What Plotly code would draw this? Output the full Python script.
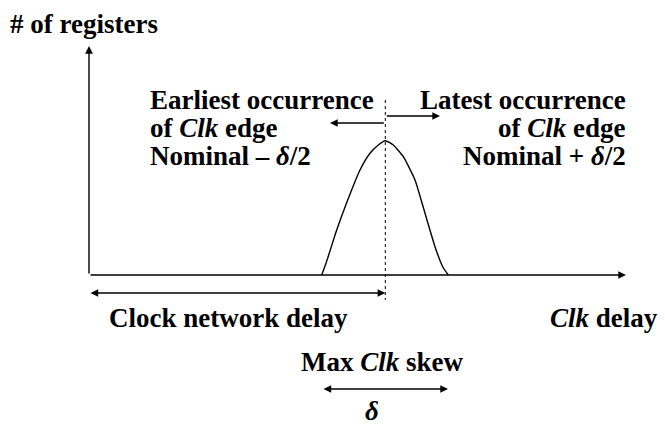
import plotly.graph_objects as go

# ---- data (schematic diagram; pixel-like units) ----
curve_delay = [321.7, 326.0, 336.7, 349.0, 360.0, 370.0, 378.3, 385.3, 393.3, 403.3, 415.0, 425.0, 435.0, 442.7, 448.3]
curve_count = [275.0, 263.3, 230.0, 196.7, 170.0, 153.3, 145.0, 140.7, 145.0, 156.7, 180.0, 213.3, 246.7, 266.7, 275.0]
nominal_delay = 385.3
skew_span = [322, 448]
origin = [89, 275]
axis_ends = [626, 46]
left_labels = ["Earliest occurrence", "of <i>Clk</i> edge", "Nominal – <i>δ</i>/2"]
right_labels = ["Latest occurrence", "of <i>Clk</i> edge", "Nominal + <i>δ</i>/2"]

FONT = "Liberation Serif"
FS = 27
BLACK = "#000000"

fig = go.Figure()
fig.add_trace(go.Scatter(x=curve_delay, y=curve_count, mode="lines",
                         line=dict(color=BLACK, width=1.4, shape="spline", smoothing=0.5),
                         hoverinfo="skip", showlegend=False))

ann = []
def arrow(x, y, ax, ay, both=False):
    ann.append(dict(x=x, y=y, ax=ax, ay=ay, xref="x", yref="y", axref="x", ayref="y",
                    showarrow=True, arrowhead=2, arrowsize=1.1, arrowwidth=1.4,
                    arrowcolor=BLACK, standoff=0, startstandoff=0,
                    arrowside="end+start" if both else "end", text=""))
def label(x, y, text, anchor="center"):
    ann.append(dict(x=x, y=y, xref="x", yref="y", text="<b>" + text + "</b>",
                    showarrow=False, xanchor=anchor, yanchor="middle",
                    font=dict(family=FONT, size=FS, color=BLACK)))

ox, oy = origin
# axes
arrow(axis_ends[0], oy, ox, oy)
arrow(ox, axis_ends[1], ox, oy)
# earliest / latest arrows
arrow(330, 123, nominal_delay, 123)
arrow(440, 116, nominal_delay, 116)
# clock network delay
arrow(nominal_delay, 293, ox, 293, both=True)
# skew
arrow(skew_span[1], 389, skew_span[0], 389, both=True)

label(8, 24, "# of registers", anchor="left")
line_y = [100, 128, 156]
for t, yy in zip(left_labels, line_y):
    label(148, yy, t, anchor="left")
for t, yy in zip(right_labels, line_y):
    label(628, yy, t, anchor="right")
label(228, 318, "Clock network delay")
label(604, 318, "<i>Clk</i> delay")
label(382, 362, "Max <i>Clk</i> skew")
label(372, 411, "<i>δ</i>")

fig.update_layout(
    width=665, height=428, margin=dict(l=0, r=0, t=0, b=0),
    paper_bgcolor="white", plot_bgcolor="white",
    xaxis=dict(range=[0, 665], visible=False, fixedrange=True),
    yaxis=dict(range=[428, 0], visible=False, fixedrange=True),
    annotations=ann,
    shapes=[dict(type="line", x0=nominal_delay, x1=nominal_delay, y0=100, y1=300,
                 xref="x", yref="y", line=dict(color=BLACK, width=1, dash="dot"))],
)
fig.write_html("out.html", config={"displayModeBar": False},
               post_script="document.body.style.margin='0';document.body.style.overflow='hidden';")
